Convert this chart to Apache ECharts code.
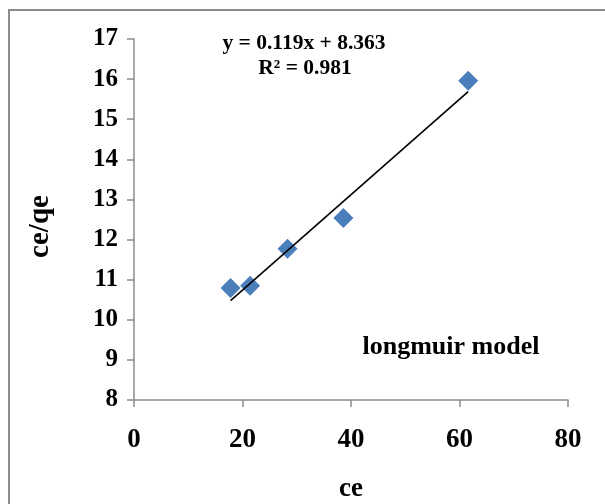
<!DOCTYPE html>
<html>
<head>
<meta charset="utf-8">
<script src="https://cdn.jsdelivr.net/npm/echarts@6/dist/echarts.min.js"></script>
<style>html,body{margin:0;padding:0;background:#fff;}#c{width:605px;height:504px;}</style>
</head>
<body>
<div id="c"></div>
<script>
// Data
const ceValues = [17.8, 21.4, 28.3, 38.6, 61.6];
const ceqeValues = [10.79, 10.85, 11.77, 12.54, 15.96];
// Trendline end points (as drawn in the reference)
const trendX = [17.8, 61.6];
const trendY = [10.48, 15.69];
const equationLines = ['y = 0.119x + 8.363', 'R² = 0.981'];
const noteText = 'longmuir model';

const font = '"Liberation Serif", "Times New Roman", serif';
const axisGray = '#8c8c8c';

const chart = echarts.init(document.getElementById('c'), null, {renderer: 'canvas'});
chart.setOption({
  animation: false,
  backgroundColor: '#fff',
  grid: {left: 134, right: 37, top: 39, bottom: 104, containLabel: false, outerBoundsMode: 'none'},
  xAxis: {
    type: 'value', min: 0, max: 80, interval: 20,
    name: 'ce', nameLocation: 'middle', nameGap: 76,
    nameTextStyle: {fontFamily: font, fontWeight: 'bold', fontSize: 27, color: '#000'},
    axisLine: {show: true, onZero: false, lineStyle: {color: axisGray, width: 1.5}},
    axisTick: {show: true, length: 7, lineStyle: {color: axisGray, width: 1.5}},
    axisLabel: {margin: 27, fontFamily: font, fontWeight: 'bold', fontSize: 27, color: '#000'},
    splitLine: {show: false}
  },
  yAxis: {
    type: 'value', min: 8, max: 17, interval: 1,
    name: 'ce/qe', nameLocation: 'middle', nameGap: 79, nameRotate: 90,
    nameTextStyle: {fontFamily: font, fontWeight: 'bold', fontSize: 29, color: '#000', padding: [0, 14, 0, 0]},
    axisLine: {show: true, onZero: false, lineStyle: {color: axisGray, width: 1.5}},
    axisTick: {show: true, length: 7, lineStyle: {color: axisGray, width: 1.5}},
    axisLabel: {margin: 16, fontFamily: font, fontWeight: 'bold', fontSize: 25, color: '#000'},
    splitLine: {show: false}
  },
  series: [
    {
      type: 'line',
      data: trendX.map((x, i) => [x, trendY[i]]),
      showSymbol: false, symbol: 'none',
      lineStyle: {color: '#000', width: 1.6},
      z: 3
    },
    {
      type: 'scatter',
      data: ceValues.map((x, i) => [x, ceqeValues[i]]),
      symbol: 'diamond', symbolSize: [20, 20],
      itemStyle: {color: '#4a7ebb', opacity: 1},
      z: 2
    }
  ],
  graphic: [
    {type: 'rect', shape: {x: 9, y: 10, width: 700, height: 600},
     style: {fill: 'none', stroke: '#8c8c8c', lineWidth: 2}, silent: true, z: -1},
    {type: 'text', x: 304, y: 43,
     style: {text: equationLines[0], fontFamily: font, fontWeight: 'bold', fontSize: 21.5, fill: '#000', textAlign: 'center', textVerticalAlign: 'middle'}},
    {type: 'text', x: 305, y: 68,
     style: {text: equationLines[1], fontFamily: font, fontWeight: 'bold', fontSize: 21.5, fill: '#000', textAlign: 'center', textVerticalAlign: 'middle'}},
    {type: 'text', x: 451, y: 347,
     style: {text: noteText, fontFamily: font, fontWeight: 'bold', fontSize: 26, fill: '#000', textAlign: 'center', textVerticalAlign: 'middle'}}
  ]
});
</script>
</body>
</html>
